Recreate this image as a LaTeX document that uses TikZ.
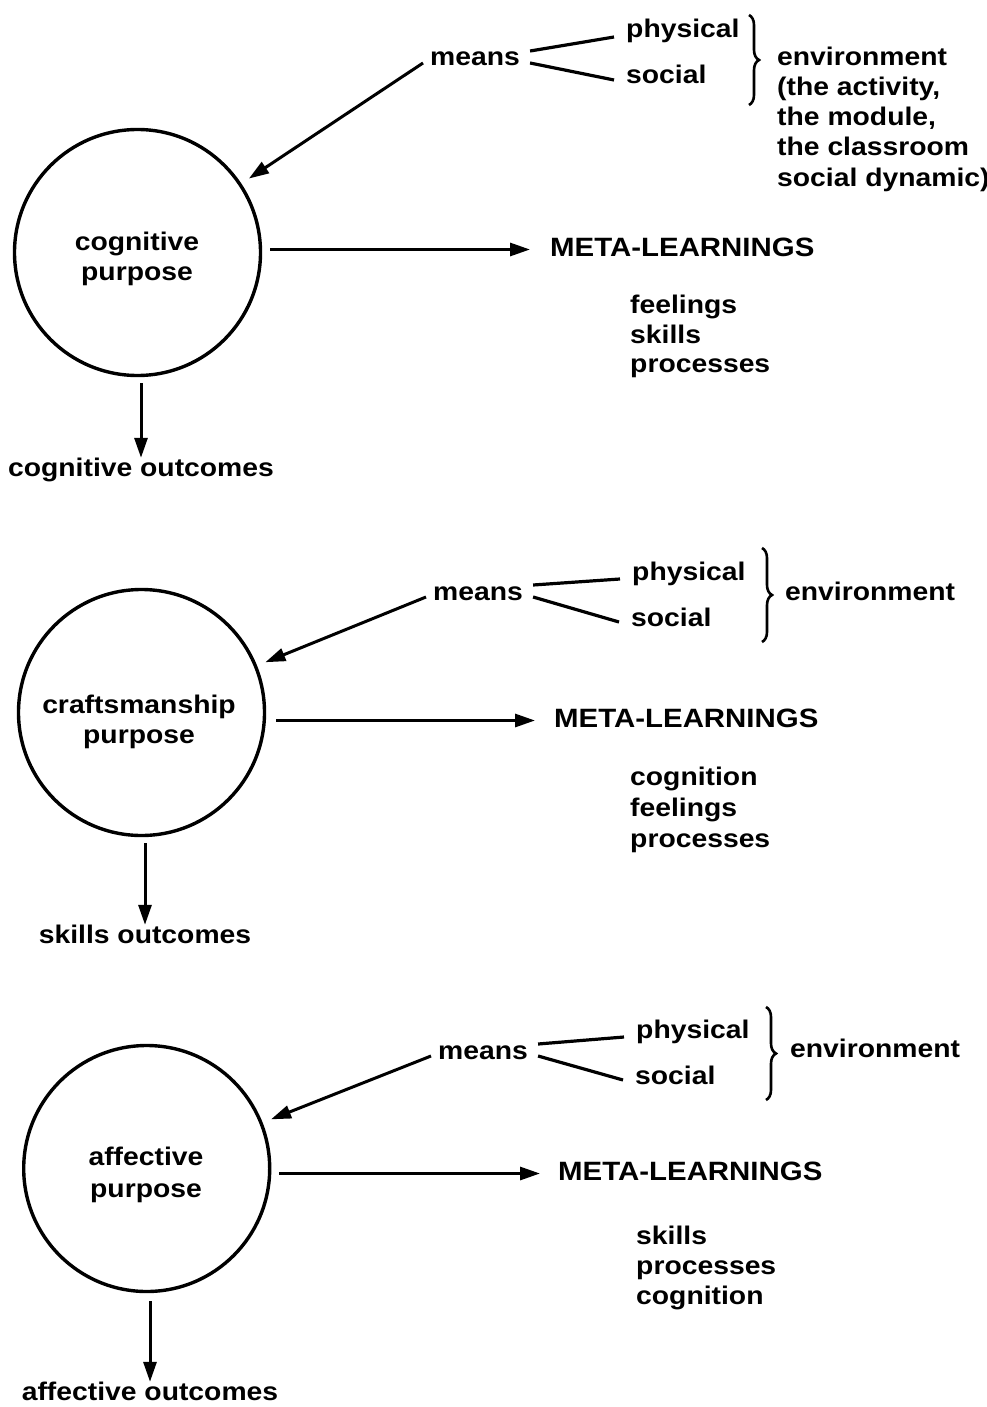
\documentclass[tikz,border=0pt]{standalone}
\usepackage{fontspec}
\newfontfamily\lab{Liberation Sans}[FakeStretch=1.11]
\usetikzlibrary{arrows.meta,decorations.pathreplacing}
\tikzset{
  lbl/.style={font=\lab\bfseries\fontsize{25.5}{30}\selectfont, inner sep=0pt,
              text height=18pt, text depth=5pt, anchor=base west},
  ctr/.style={lbl, anchor=base},
  meta/.style={lbl, font=\lab\bfseries\fontsize{26.5}{30}\selectfont},
  purp/.style={circle, draw, line width=3.4pt, minimum size=246pt, inner sep=0pt},
  arr/.style={line width=3pt, -{Triangle[length=20pt,width=13pt]}},
  tie/.style={line width=3.2pt},
  brc/.style={line width=2.6pt, decorate, decoration={brace, amplitude=10pt}},
}
\begin{document}
\begin{tikzpicture}[x=1pt,y=-1pt]
\path[use as bounding box] (0,0) rectangle (987,1407);

% ---------- group 1 ----------
\node[purp] (c1) at (137.5,252.5) {};
\node[ctr] (c1a) at (137,250) {cognitive};
\node[ctr] (c1b) at (137,280) {purpose};
\node[ctr] (o1) at (141,476) {cognitive outcomes};
\draw[arr, shorten <=6pt] (c1.south -| o1.north) -- (o1.north);
\node[lbl] (m1) at (430,66) {means};
\node[lbl] (p1) at (626,38) {physical};
\node[lbl] (s1) at (626,84) {social};
\draw[tie] ([xshift=10pt,yshift=8.5pt]m1.east) -- ([xshift=-12pt,yshift=-5.5pt]p1.west);
\draw[tie] ([xshift=10pt,yshift=-3.5pt]m1.east) -- ([xshift=-12pt,yshift=-2.5pt]s1.west);
\draw[arr, shorten >=9pt] ([xshift=-7pt,yshift=-3.5pt]m1.west) -- (c1);
\coordinate (b1t) at (749,15);
\coordinate (b1b) at (749,105);
\draw[brc] (b1t) -- (b1b);
\node[lbl] (e1a) at (777,66) {environment};
\node[lbl] (e1b) at (777,96) {(the activity,};
\node[lbl] (e1c) at (777,126) {the module,};
\node[lbl] (e1d) at (777,156) {the classroom};
\node[lbl] (e1e) at (777,186) {social dynamic)};
\node[meta] (ml1) at (550,256) {META-LEARNINGS};
\draw[arr, shorten <=8pt, shorten >=20pt] (c1.east |- ml1.west) -- (ml1.west);
\node[lbl] (l1a) at (630,313) {feelings};
\node[lbl] (l1b) at (630,343) {skills};
\node[lbl] (l1c) at (630,372) {processes};

% ---------- group 2 ----------
\node[purp] (c2) at (141.5,712.5) {};
\node[ctr] (c2a) at (139,713) {craftsmanship};
\node[ctr] (c2b) at (139,743) {purpose};
\node[ctr] (o2) at (145,943) {skills outcomes};
\draw[arr, shorten <=6pt] (c2.south -| o2.north) -- (o2.north);
\node[lbl] (m2) at (433,600) {means};
\node[lbl] (p2) at (632,580) {physical};
\node[lbl] (s2) at (631,626) {social};
\draw[tie] ([xshift=10pt,yshift=8.5pt]m2.east) -- ([xshift=-12pt,yshift=-5.5pt]p2.west);
\draw[tie] ([xshift=10pt,yshift=-3.5pt]m2.east) -- ([xshift=-12pt,yshift=-2.5pt]s2.west);
\draw[arr, shorten >=9pt] ([xshift=-7pt,yshift=-3.5pt]m2.west) -- (c2);
\coordinate (b2t) at (762,548);
\coordinate (b2b) at (762,642);
\draw[brc] (b2t) -- (b2b);
\node[lbl] (e2) at (785,600) {environment};
\node[meta] (ml2) at (554,727) {META-LEARNINGS};
\draw[arr, shorten <=10pt, shorten >=19pt] (c2.east |- ml2.west) -- (ml2.west);
\node[lbl] (l2a) at (630,785) {cognition};
\node[lbl] (l2b) at (630,816) {feelings};
\node[lbl] (l2c) at (630,847) {processes};

% ---------- group 3 ----------
\node[purp] (c3) at (146.7,1168.5) {};
\node[ctr] (c3a) at (146,1165) {affective};
\node[ctr] (c3b) at (146,1197) {purpose};
\node[ctr] (o3) at (150,1400) {affective outcomes};
\draw[arr, shorten <=8pt] (c3.south -| o3.north) -- (o3.north);
\node[lbl] (m3) at (438,1059) {means};
\node[lbl] (p3) at (636,1038) {physical};
\node[lbl] (s3) at (635,1084) {social};
\draw[tie] ([xshift=10pt,yshift=8.5pt]m3.east) -- ([xshift=-12pt,yshift=-5.5pt]p3.west);
\draw[tie] ([xshift=10pt,yshift=-3.5pt]m3.east) -- ([xshift=-12pt,yshift=-2.5pt]s3.west);
\draw[arr, shorten >=9pt] ([xshift=-7pt,yshift=-3.5pt]m3.west) -- (c3);
\coordinate (b3t) at (766,1007);
\coordinate (b3b) at (766,1100);
\draw[brc] (b3t) -- (b3b);
\node[lbl] (e3) at (790,1057) {environment};
\node[meta] (ml3) at (558,1180) {META-LEARNINGS};
\draw[arr, shorten <=8pt, shorten >=18pt] (c3.east |- ml3.west) -- (ml3.west);
\node[lbl] (l3a) at (636,1244) {skills};
\node[lbl] (l3b) at (636,1274) {processes};
\node[lbl] (l3c) at (636,1304) {cognition};
\end{tikzpicture}
\end{document}
